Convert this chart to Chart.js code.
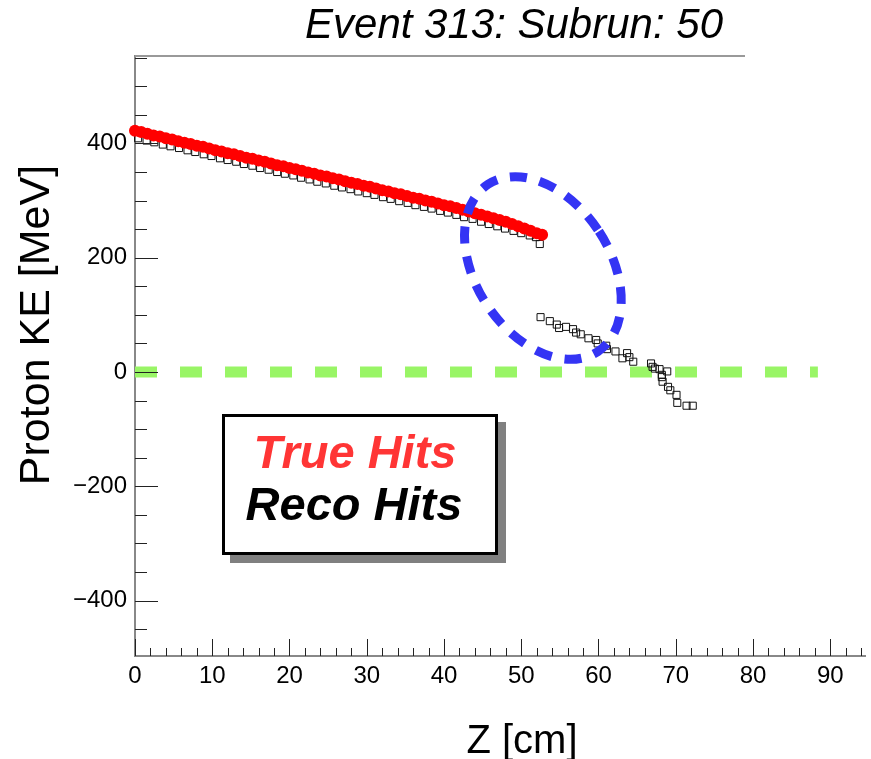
<!DOCTYPE html>
<html>
<head>
<meta charset="utf-8">
<script src="https://cdn.jsdelivr.net/npm/chart.js"></script>
<style>
  body { margin: 0; background: #fff; }
  canvas { display: block; }
</style>
</head>
<body>
<canvas id="chart" width="871" height="759"></canvas>
<script>
// True hits (red dots): Z [cm] and KE [MeV]
const trueZ = [0, 0.8, 1.6, 2.4, 3.2, 4.0, 4.8, 5.6, 6.4, 7.2, 8.0, 8.8, 9.6, 10.4, 11.2, 12.0, 12.8, 13.6, 14.4, 15.2,
  16.0, 16.8, 17.6, 18.4, 19.2, 20.0, 20.8, 21.6, 22.4, 23.2, 24.0, 24.8, 25.6, 26.4, 27.2, 28.0, 28.8, 29.6, 30.4, 31.2,
  32.0, 32.8, 33.6, 34.4, 35.2, 36.0, 36.8, 37.6, 38.4, 39.2, 40.0, 40.8, 41.6, 42.4, 43.2, 44.0, 44.8, 45.6, 46.4, 47.2,
  48.0, 48.8, 49.6, 50.4, 51.2, 52.0, 52.7];
const trueKE = [422, 420, 417, 414, 412, 409, 407, 404, 401, 399, 396, 394, 391, 388, 386, 383, 381, 378, 375, 373,
  370, 368, 365, 362, 360, 357, 355, 352, 349, 347, 344, 342, 339, 337, 334, 331, 329, 326, 324, 321,
  318, 316, 313, 311, 308, 305, 303, 300, 298, 295, 292, 290, 287, 284, 281, 278, 275, 272, 269, 266,
  263, 259, 255, 251, 247, 243, 240];

// Reco hits (open squares)
const recoZ = [0.4, 1.5, 2.5, 3.6, 4.6, 5.7, 6.8, 7.8, 8.9, 9.9, 11.0, 12.0, 13.1, 14.1, 15.2, 16.2, 17.3, 18.4, 19.4, 20.5,
  21.5, 22.6, 23.6, 24.7, 25.8, 26.8, 27.9, 28.9, 30.0, 31.0, 32.1, 33.1, 34.2, 35.3, 36.3, 37.4, 38.4, 39.5, 40.5, 41.6,
  42.6, 43.7, 44.8, 45.8, 46.9, 47.9, 49.0, 50.0, 51.1, 51.9, 52.4,
  52.5, 53.7, 54.6, 54.9, 55.8, 56.7, 57.1, 57.7, 58.7, 59.7, 59.9, 61.0, 61.1, 62.2, 63.1, 63.7, 64.0, 64.5,
  66.8, 67.0, 67.3, 67.9, 68.9, 68.2, 68.2, 68.3, 69.0, 69.3, 70.1, 70.2, 71.4, 72.2];
const recoKE = [409, 405, 402, 398, 395, 392, 388, 385, 381, 378, 374, 371, 368, 364, 361, 357, 354, 350, 347, 344,
  340, 337, 333, 330, 326, 323, 320, 316, 313, 310, 306, 303, 299, 296, 292, 289, 286, 282, 279, 275,
  271, 268, 263, 259, 255, 251, 247, 243, 239, 236, 224,
  96, 89, 83, 77, 79, 75, 69, 66, 59, 56, 50, 46, 40, 36, 24, 33, 26, 18,
  15, 9, 6, 5, 1, -5, -9, -17, -26, -32, -40, -54, -59, -59];

// zero line and axis ticks
const zeroLineZ = [0, 88.4];
const zeroLineKE = [0, 0];
const xTicks = [0, 10, 20, 30, 40, 50, 60, 70, 80, 90];
const yTicks = [-400, -200, 0, 200, 400];

const FONT = '"Liberation Sans", Arial, Helvetica, sans-serif';

// circled gap (data coords for the centre)
const gapMark = { z: 52.8, ke: 182, rx: 67, ry: 100, rot: -0.58 };

const decor = {
  id: 'decor',
  afterDatasetsDraw(chart) {
    const { ctx, chartArea: a, scales: { x, y } } = chart;
    ctx.save();
    // blue dashed ellipse
    ctx.strokeStyle = '#3434f4';
    ctx.lineWidth = 9;
    ctx.setLineDash([17, 13]);
    ctx.beginPath();
    ctx.ellipse(x.getPixelForValue(gapMark.z), y.getPixelForValue(gapMark.ke), gapMark.rx, gapMark.ry, gapMark.rot, 0, Math.PI * 2);
    ctx.stroke();
    ctx.setLineDash([]);

    // inward tick marks
    ctx.strokeStyle = '#222';
    ctx.lineWidth = 1;
    ctx.beginPath();
    for (let v = 0; v <= x.max; v += 2) {
      const px = Math.round(x.getPixelForValue(v)) + 0.5;
      const len = v % 10 === 0 ? 17 : 8;
      ctx.moveTo(px, a.bottom);
      ctx.lineTo(px, a.bottom - len);
    }
    for (let v = -450; v <= y.max; v += 50) {
      const py = Math.round(y.getPixelForValue(v)) + 0.5;
      const len = v % 200 === 0 ? 23 : 12;
      ctx.moveTo(a.left, py);
      ctx.lineTo(a.left + len, py);
    }
    ctx.stroke();

    // top frame line
    ctx.strokeStyle = '#999';
    ctx.lineWidth = 2;
    ctx.beginPath();
    ctx.moveTo(a.left, 56);
    ctx.lineTo(745, 56);
    ctx.stroke();
    ctx.restore();
  },
  afterDraw(chart) {
    const { ctx } = chart;
    ctx.save();
    ctx.fillStyle = '#000';
    // title
    ctx.font = 'italic 42px ' + FONT;
    ctx.textAlign = 'center';
    ctx.textBaseline = 'alphabetic';
    ctx.fillText('Event 313: Subrun: 50', 514, 38);
    // axis titles
    ctx.font = '40px ' + FONT;
    ctx.fillText('Z [cm]', 522, 753);
    ctx.save();
    ctx.translate(49, 325);
    ctx.rotate(-Math.PI / 2);
    ctx.font = '43px ' + FONT;
    ctx.fillText('Proton KE [MeV]', 0, 0);
    ctx.restore();

    // legend box with shadow
    ctx.fillStyle = '#808080';
    ctx.fillRect(230, 422, 276, 141);
    ctx.fillStyle = '#fff';
    ctx.fillRect(222, 414, 276, 141);
    ctx.strokeStyle = '#000';
    ctx.lineWidth = 3;
    ctx.strokeRect(223.5, 415.5, 273, 138);
    ctx.font = 'italic bold 47px ' + FONT;
    ctx.fillStyle = '#ff3535';
    ctx.fillText('True Hits', 355, 468);
    ctx.fillStyle = '#000';
    ctx.fillText('Reco Hits', 354, 520);
    ctx.restore();
  }
};

const toPts = (xs, ys) => xs.map((v, i) => ({ x: v, y: ys[i] }));

new Chart(document.getElementById('chart'), {
  type: 'scatter',
  data: {
    datasets: [
      {
        label: 'True Hits',
        data: toPts(trueZ, trueKE),
        pointRadius: 6,
        pointBackgroundColor: '#ff0000',
        pointBorderWidth: 0,
        order: 0,
        clip: false
      },
      {
        label: 'Reco Hits',
        data: toPts(recoZ, recoKE),
        pointStyle: 'rect',
        pointRadius: 5,
        pointBackgroundColor: 'rgba(0,0,0,0)',
        pointBorderColor: '#111',
        pointBorderWidth: 1,
        order: 1,
        clip: false
      },
      {
        type: 'line',
        label: 'zero',
        data: toPts(zeroLineZ, zeroLineKE),
        borderColor: '#99f566',
        borderWidth: 11,
        borderDash: [22, 23],
        pointRadius: 0,
        order: 2
      }
    ]
  },
  options: {
    responsive: false,
    animation: false,
    devicePixelRatio: 1,
    layout: { padding: { top: 56, left: 0, right: 0, bottom: 0 } },
    plugins: { legend: { display: false }, title: { display: false }, tooltip: { enabled: false } },
    scales: {
      x: {
        type: 'linear',
        min: 0,
        max: 94.5,
        grid: { display: false, drawTicks: false },
        border: { color: '#888', width: 2 },
        afterBuildTicks: s => { s.ticks = xTicks.map(v => ({ value: v })); },
        afterFit: s => { s.height = 103; },
        ticks: { color: '#000', padding: 6, font: { family: FONT, size: 24 } }
      },
      y: {
        type: 'linear',
        min: -497,
        max: 553,
        grid: { display: false, drawTicks: false },
        border: { color: '#888', width: 2 },
        afterBuildTicks: s => { s.ticks = yTicks.map(v => ({ value: v })); },
        afterFit: s => { s.width = 135; },
        ticks: {
          color: '#000',
          padding: 8,
          font: { family: FONT, size: 24 },
          callback: v => (v < 0 ? '\u2212' + Math.abs(v) : String(v))
        }
      }
    }
  },
  plugins: [decor]
});
</script>
</body>
</html>
